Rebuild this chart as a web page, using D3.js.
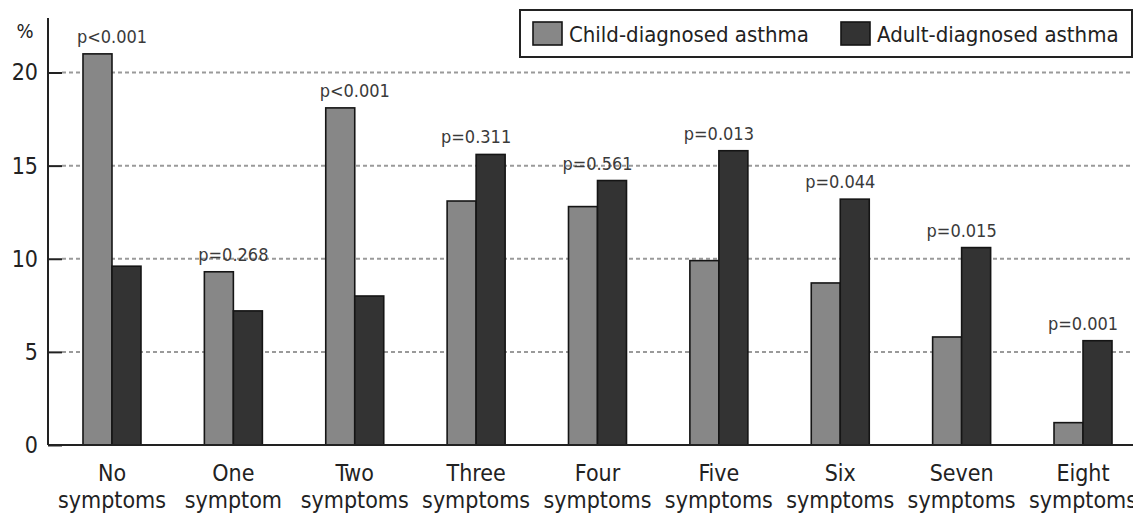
<!DOCTYPE html>
<html>
<head>
<meta charset="utf-8">
<script src="https://cdn.jsdelivr.net/npm/d3@7"></script>
<style>
  body { margin: 0; background: #fff; }
  svg text { font-family: "DejaVu Sans Condensed", "DejaVu Sans", sans-serif; font-stretch: condensed; }
</style>
</head>
<body>
<div id="chart"></div>
<script>
// chart data
const categories = ['No symptoms', 'One symptom', 'Two symptoms', 'Three symptoms', 'Four symptoms',
  'Five symptoms', 'Six symptoms', 'Seven symptoms', 'Eight symptoms']
const childDiagnosed = [21.0, 9.3, 18.1, 13.1, 12.8, 9.9, 8.7, 5.8, 1.2]
const adultDiagnosed = [9.6, 7.2, 8.0, 15.6, 14.2, 15.8, 13.2, 10.6, 5.6]
const pValues = ['p<0.001', 'p=0.268', 'p<0.001', 'p=0.311', 'p=0.561', 'p=0.013', 'p=0.044', 'p=0.015', 'p=0.001']
const seriesNames = ['Child-diagnosed asthma', 'Adult-diagnosed asthma']
const yTicks = [0, 5, 10, 15, 20]

const width = 1133
const height = 520
const colors = ['#878787', '#333333']

const svg = d3.select('#chart')
  .append('svg')
  .attr('width', width)
  .attr('height', height)

const x = d3.scaleBand()
  .domain(categories)
  .range([51.3, 1143.7])

const x1 = d3.scaleBand()
  .domain([0, 1])
  .range([x.bandwidth() / 2 - 29, x.bandwidth() / 2 + 29])

const y = d3.scaleLinear()
  .domain([0, 20])
  .range([445, 72.5])

// dashed grid lines
svg.append('g')
  .selectAll('line')
  .data(yTicks.filter(d => d > 0))
  .join('line')
  .attr('x1', 62)
  .attr('x2', width)
  .attr('y1', d => y(d))
  .attr('y2', d => y(d))
  .attr('stroke', '#9a9a9a')
  .attr('stroke-width', 2)
  .attr('stroke-dasharray', '4,3')

// bars
const groups = svg.append('g')
  .selectAll('g')
  .data(categories)
  .join('g')
  .attr('transform', d => `translate(${x(d)},0)`)

groups.selectAll('rect')
  .data((d, i) => [childDiagnosed[i], adultDiagnosed[i]])
  .join('rect')
  .attr('x', (d, j) => x1(j))
  .attr('width', x1.bandwidth())
  .attr('y', d => y(d))
  .attr('height', d => y(0) - y(d))
  .attr('fill', (d, j) => colors[j])
  .attr('stroke', '#151515')
  .attr('stroke-width', 1.6)

// p-value labels
groups.append('text')
  .attr('x', x.bandwidth() / 2)
  .attr('y', (d, i) => y(Math.max(childDiagnosed[i], adultDiagnosed[i])) - 11)
  .attr('text-anchor', 'middle')
  .attr('font-size', 18)
  .attr('fill', '#3a3a3a')
  .text((d, i) => pValues[i])

// y axis
const yAxis = d3.axisLeft(y)
  .tickValues(yTicks)
  .tickSizeInner(-14)
  .tickSizeOuter(0)
  .tickPadding(10)

const yG = svg.append('g')
  .attr('transform', 'translate(48,0)')
  .call(yAxis)
yG.select('.domain').remove()
yG.selectAll('.tick line').attr('stroke', '#222').attr('stroke-width', 2)
yG.selectAll('.tick text')
  .attr('font-size', 23)
  .attr('fill', '#222')
  .style('font-family', '"DejaVu Sans Condensed", "DejaVu Sans", sans-serif')

svg.append('line')
  .attr('x1', 48).attr('x2', 48)
  .attr('y1', 18).attr('y2', y(0))
  .attr('stroke', '#222').attr('stroke-width', 2)

svg.append('text')
  .attr('x', 25).attr('y', 38)
  .attr('text-anchor', 'middle')
  .attr('font-size', 20)
  .attr('fill', '#222')
  .text('%')

// x baseline
svg.append('line')
  .attr('x1', 48).attr('x2', width)
  .attr('y1', y(0)).attr('y2', y(0))
  .attr('stroke', '#222').attr('stroke-width', 2)

// x labels, two lines each
const xLabels = svg.append('g')
  .selectAll('text')
  .data(categories)
  .join('text')
  .attr('x', d => x(d) + x.bandwidth() / 2)
  .attr('y', 481)
  .attr('text-anchor', 'middle')
  .attr('font-size', 23)
  .attr('fill', '#222')

xLabels.selectAll('tspan')
  .data(d => d.split(' '))
  .join('tspan')
  .attr('x', function () { return this.parentNode.getAttribute('x') })
  .attr('dy', (d, i) => i === 0 ? 0 : 27)
  .text(d => d)

// legend
const legend = svg.append('g')
legend.append('rect')
  .attr('x', 520).attr('y', 10)
  .attr('width', 612).attr('height', 47)
  .attr('fill', '#fff')
  .attr('stroke', '#222')
  .attr('stroke-width', 2)

const legendX = [533, 841]
const items = legend.selectAll('g.item')
  .data(seriesNames)
  .join('g')
  .attr('class', 'item')
  .attr('transform', (d, i) => `translate(${legendX[i]},0)`)

items.append('rect')
  .attr('x', 0).attr('y', 22)
  .attr('width', 29).attr('height', 23)
  .attr('fill', (d, i) => colors[i])
  .attr('stroke', '#151515')
  .attr('stroke-width', 1.6)

items.append('text')
  .attr('x', 36).attr('y', 42)
  .attr('font-size', 22)
  .attr('fill', '#222')
  .text(d => d)
</script>
</body>
</html>
